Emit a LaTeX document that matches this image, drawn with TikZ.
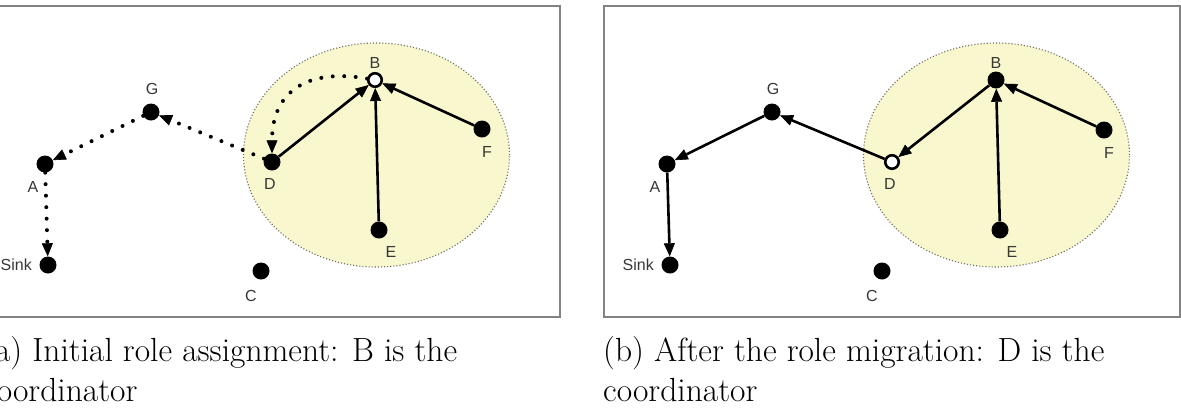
\documentclass[tikz,border=0pt]{standalone}
\usepackage{fontspec}
\newfontfamily\labfont{Liberation Sans}
\usetikzlibrary{arrows.meta}
\definecolor{framegray}{RGB}{130,130,130}
\definecolor{clusteryellow}{RGB}{249,247,205}
\definecolor{clusterdots}{RGB}{110,110,100}
\definecolor{labgray}{RGB}{55,55,55}
\begin{document}
\begin{tikzpicture}[x=1pt,y=-1pt,
  dot/.style={circle,fill=black,minimum size=17pt,inner sep=0pt},
  hollow/.style={circle,draw=black,fill=white,line width=2.6pt,minimum size=13.5pt,inner sep=0pt},
  lab/.style={font=\labfont\fontsize{16}{19}\selectfont,inner sep=0pt,text=labgray},
  captext/.style={font=\fontsize{33.5}{40}\selectfont,inner sep=0pt,anchor=base west},
  link/.style={line width=2.6pt,-{Triangle[length=13pt,width=11pt,line width=0.6pt]}},
  dlink/.style={line width=4pt,line cap=round,dash pattern=on 0pt off 11.5pt,-{Triangle[length=13pt,width=11pt,line width=0.6pt]}},
  frame/.style={draw=framegray,line width=2pt},
  cluster/.style={fill=clusteryellow,draw=clusterdots,line width=1.1pt,dash pattern=on 1.1pt off 2pt}]
\useasboundingbox (0,0) rectangle (1181,416);
\fill[white] (0,0) rectangle (1181,416);

% ---------- panel (a) ----------
\draw[frame] (-16,6) rectangle (560,317);
\path[cluster] (376.5,155) ellipse [x radius=133pt, y radius=112pt];
\node[dot] (aG) at (151,112) {};
\node[dot] (aA) at (45,164) {};
\node[dot] (aS) at (48,265) {};
\node[dot] (aC) at (261,271) {};
\node[dot] (aD) at (272,162) {};
\node[hollow] (aB) at (375,80) {};
\node[dot] (aF) at (482,129) {};
\node[dot] (aE) at (379,230) {};
\node[lab] (laG) at ([shift={(1,-23)}]aG.center) {G};
\node[lab] (laA) at ([shift={(-12,23)}]aA.center) {A};
\node[lab,anchor=east] (laS) at ([shift={(-16,0)}]aS.center) {Sink};
\node[lab] (laC) at ([shift={(-10,25)}]aC.center) {C};
\node[lab] (laD) at ([shift={(-2,22)}]aD.center) {D};
\node[lab] (laB) at ([shift={(0,-17)}]aB.center) {B};
\node[lab] (laF) at ([shift={(5,23)}]aF.center) {F};
\node[lab] (laE) at ([shift={(12,22)}]aE.center) {E};
\draw[link] (aD) -- (aB);
\draw[link] (aE) -- (aB);
\draw[link] (aF) -- (aB);
\draw[dlink] (aB) to[out=170,in=90,looseness=1.3] (aD);
\draw[dlink] (aD) -- (aG);
\draw[dlink] (aG) -- (aA);
\draw[dlink] (aA) -- (aS);

% ---------- panel (b) ----------
\draw[frame] (604,6) rectangle (1180,317);
\path[cluster] (996.5,155) ellipse [x radius=133pt, y radius=112pt];
\node[dot] (bG) at (772,112) {};
\node[dot] (bA) at (667,164) {};
\node[dot] (bS) at (670,265) {};
\node[dot] (bC) at (882,271) {};
\node[hollow] (bD) at (892,162) {};
\node[dot] (bB) at (996,80) {};
\node[dot] (bF) at (1104,130) {};
\node[dot] (bE) at (1000,230) {};
\node[lab] (lbG) at ([shift={(1,-23)}]bG.center) {G};
\node[lab] (lbA) at ([shift={(-12,23)}]bA.center) {A};
\node[lab,anchor=east] (lbS) at ([shift={(-16,0)}]bS.center) {Sink};
\node[lab] (lbC) at ([shift={(-10,25)}]bC.center) {C};
\node[lab] (lbD) at ([shift={(-2,22)}]bD.center) {D};
\node[lab] (lbB) at ([shift={(0,-17)}]bB.center) {B};
\node[lab] (lbF) at ([shift={(5,23)}]bF.center) {F};
\node[lab] (lbE) at ([shift={(12,22)}]bE.center) {E};
\draw[link] (bE) -- (bB);
\draw[link] (bF) -- (bB);
\draw[link] (bB) -- (bD);
\draw[link] (bD) -- (bG);
\draw[link] (bG) -- (bA);
\draw[link] (bA) -- (bS);

% ---------- captions ----------
\node[captext] (capa1) at (-17,361) {(a) Initial role assignment: B is the};
\node[captext] (capa2) at (-17,401) {coordinator};
\node[captext] (capb1) at (603,361) {(b) After the role migration: D is the};
\node[captext] (capb2) at (603,401) {coordinator};
\end{tikzpicture}
\end{document}
